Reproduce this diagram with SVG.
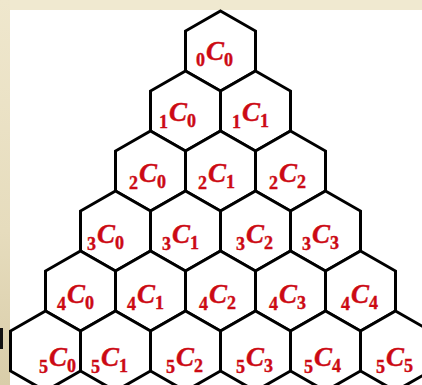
<svg xmlns="http://www.w3.org/2000/svg" xmlns:xlink="http://www.w3.org/1999/xlink" width="422" height="385" viewBox="0 0 422 385">
<style>
.hex{fill:#fff;stroke:#000;stroke-width:3;stroke-linejoin:miter}
.lbl{font-family:"Liberation Serif","Times New Roman",serif;font-weight:bold;fill:#cc0a14;stroke:#cc0a14;stroke-width:0.4}
.sub{font-size:18px;font-style:normal}
.c{font-size:27px;font-style:italic}
</style>
<defs>
<polygon id="hx" class="hex" points="0,-40 35,-20 35,20 0,40 -35,20 -35,-20"/>
<linearGradient id="lg" x1="0" y1="0" x2="0" y2="1">
<stop offset="0" stop-color="#efe7cd"/>
<stop offset="0.6" stop-color="#e6dcbd"/>
<stop offset="1" stop-color="#d9cda9"/>
</linearGradient>
</defs>
<rect x="0" y="0" width="422" height="385" fill="#f0e9d0"/>
<rect x="0" y="0" width="10" height="385" fill="url(#lg)"/>
<rect x="10" y="10" width="412" height="375" fill="#ffffff"/>
<rect x="0" y="328" width="3" height="21" fill="#111"/>
<g id="connectors"></g>
<g id="n00"><use xlink:href="#hx" x="220.5" y="51"/><text class="lbl" x="196" y="60"><tspan class="sub" dy="6">0</tspan><tspan class="c" dx="1" dy="-6">C</tspan><tspan class="sub" dy="6">0</tspan></text></g>
<g id="n10"><use xlink:href="#hx" x="185.5" y="111"/><text class="lbl" x="159" y="121"><tspan class="sub" dy="7">1</tspan><tspan class="c" dx="1" dy="-7">C</tspan><tspan class="sub" dy="6">0</tspan></text></g>
<g id="n11"><use xlink:href="#hx" x="255.5" y="111"/><text class="lbl" x="232" y="121"><tspan class="sub" dy="7">1</tspan><tspan class="c" dx="1" dy="-7">C</tspan><tspan class="sub" dy="6">1</tspan></text></g>
<g id="n20"><use xlink:href="#hx" x="150.5" y="171"/><text class="lbl" x="129" y="182"><tspan class="sub" dy="7">2</tspan><tspan class="c" dx="1" dy="-7">C</tspan><tspan class="sub" dy="6">0</tspan></text></g>
<g id="n21"><use xlink:href="#hx" x="220.5" y="171"/><text class="lbl" x="198" y="182"><tspan class="sub" dy="7">2</tspan><tspan class="c" dx="1" dy="-7">C</tspan><tspan class="sub" dy="6">1</tspan></text></g>
<g id="n22"><use xlink:href="#hx" x="290.5" y="171"/><text class="lbl" x="269" y="182"><tspan class="sub" dy="7">2</tspan><tspan class="c" dx="1" dy="-7">C</tspan><tspan class="sub" dy="6">2</tspan></text></g>
<g id="n30"><use xlink:href="#hx" x="115.5" y="231"/><text class="lbl" x="87" y="243"><tspan class="sub" dy="7">3</tspan><tspan class="c" dx="1" dy="-7">C</tspan><tspan class="sub" dy="6">0</tspan></text></g>
<g id="n31"><use xlink:href="#hx" x="185.5" y="231"/><text class="lbl" x="162" y="243"><tspan class="sub" dy="7">3</tspan><tspan class="c" dx="1" dy="-7">C</tspan><tspan class="sub" dy="6">1</tspan></text></g>
<g id="n32"><use xlink:href="#hx" x="255.5" y="231"/><text class="lbl" x="236" y="243"><tspan class="sub" dy="7">3</tspan><tspan class="c" dx="1" dy="-7">C</tspan><tspan class="sub" dy="6">2</tspan></text></g>
<g id="n33"><use xlink:href="#hx" x="325.5" y="231"/><text class="lbl" x="302" y="243"><tspan class="sub" dy="7">3</tspan><tspan class="c" dx="1" dy="-7">C</tspan><tspan class="sub" dy="6">3</tspan></text></g>
<g id="n40"><use xlink:href="#hx" x="80.5" y="291"/><text class="lbl" x="57" y="303"><tspan class="sub" dy="7">4</tspan><tspan class="c" dx="1" dy="-7">C</tspan><tspan class="sub" dy="6">0</tspan></text></g>
<g id="n41"><use xlink:href="#hx" x="150.5" y="291"/><text class="lbl" x="127" y="303"><tspan class="sub" dy="7">4</tspan><tspan class="c" dx="1" dy="-7">C</tspan><tspan class="sub" dy="6">1</tspan></text></g>
<g id="n42"><use xlink:href="#hx" x="220.5" y="291"/><text class="lbl" x="199" y="303"><tspan class="sub" dy="7">4</tspan><tspan class="c" dx="1" dy="-7">C</tspan><tspan class="sub" dy="6">2</tspan></text></g>
<g id="n43"><use xlink:href="#hx" x="290.5" y="291"/><text class="lbl" x="269" y="303"><tspan class="sub" dy="7">4</tspan><tspan class="c" dx="1" dy="-7">C</tspan><tspan class="sub" dy="6">3</tspan></text></g>
<g id="n44"><use xlink:href="#hx" x="360.5" y="291"/><text class="lbl" x="341" y="303"><tspan class="sub" dy="7">4</tspan><tspan class="c" dx="1" dy="-7">C</tspan><tspan class="sub" dy="6">4</tspan></text></g>
<g id="n50"><use xlink:href="#hx" x="45.5" y="351"/><text class="lbl" x="39" y="366"><tspan class="sub" dy="7">5</tspan><tspan class="c" dx="1" dy="-7">C</tspan><tspan class="sub" dy="6">0</tspan></text></g>
<g id="n51"><use xlink:href="#hx" x="115.5" y="351"/><text class="lbl" x="91" y="366"><tspan class="sub" dy="7">5</tspan><tspan class="c" dx="1" dy="-7">C</tspan><tspan class="sub" dy="6">1</tspan></text></g>
<g id="n52"><use xlink:href="#hx" x="185.5" y="351"/><text class="lbl" x="166" y="366"><tspan class="sub" dy="7">5</tspan><tspan class="c" dx="1" dy="-7">C</tspan><tspan class="sub" dy="6">2</tspan></text></g>
<g id="n53"><use xlink:href="#hx" x="255.5" y="351"/><text class="lbl" x="236" y="366"><tspan class="sub" dy="7">5</tspan><tspan class="c" dx="1" dy="-7">C</tspan><tspan class="sub" dy="6">3</tspan></text></g>
<g id="n54"><use xlink:href="#hx" x="325.5" y="351"/><text class="lbl" x="304" y="366"><tspan class="sub" dy="7">5</tspan><tspan class="c" dx="1" dy="-7">C</tspan><tspan class="sub" dy="6">4</tspan></text></g>
<g id="n55"><use xlink:href="#hx" x="395.5" y="351"/><text class="lbl" x="376" y="366"><tspan class="sub" dy="7">5</tspan><tspan class="c" dx="1" dy="-7">C</tspan><tspan class="sub" dy="6">5</tspan></text></g>
</svg>
